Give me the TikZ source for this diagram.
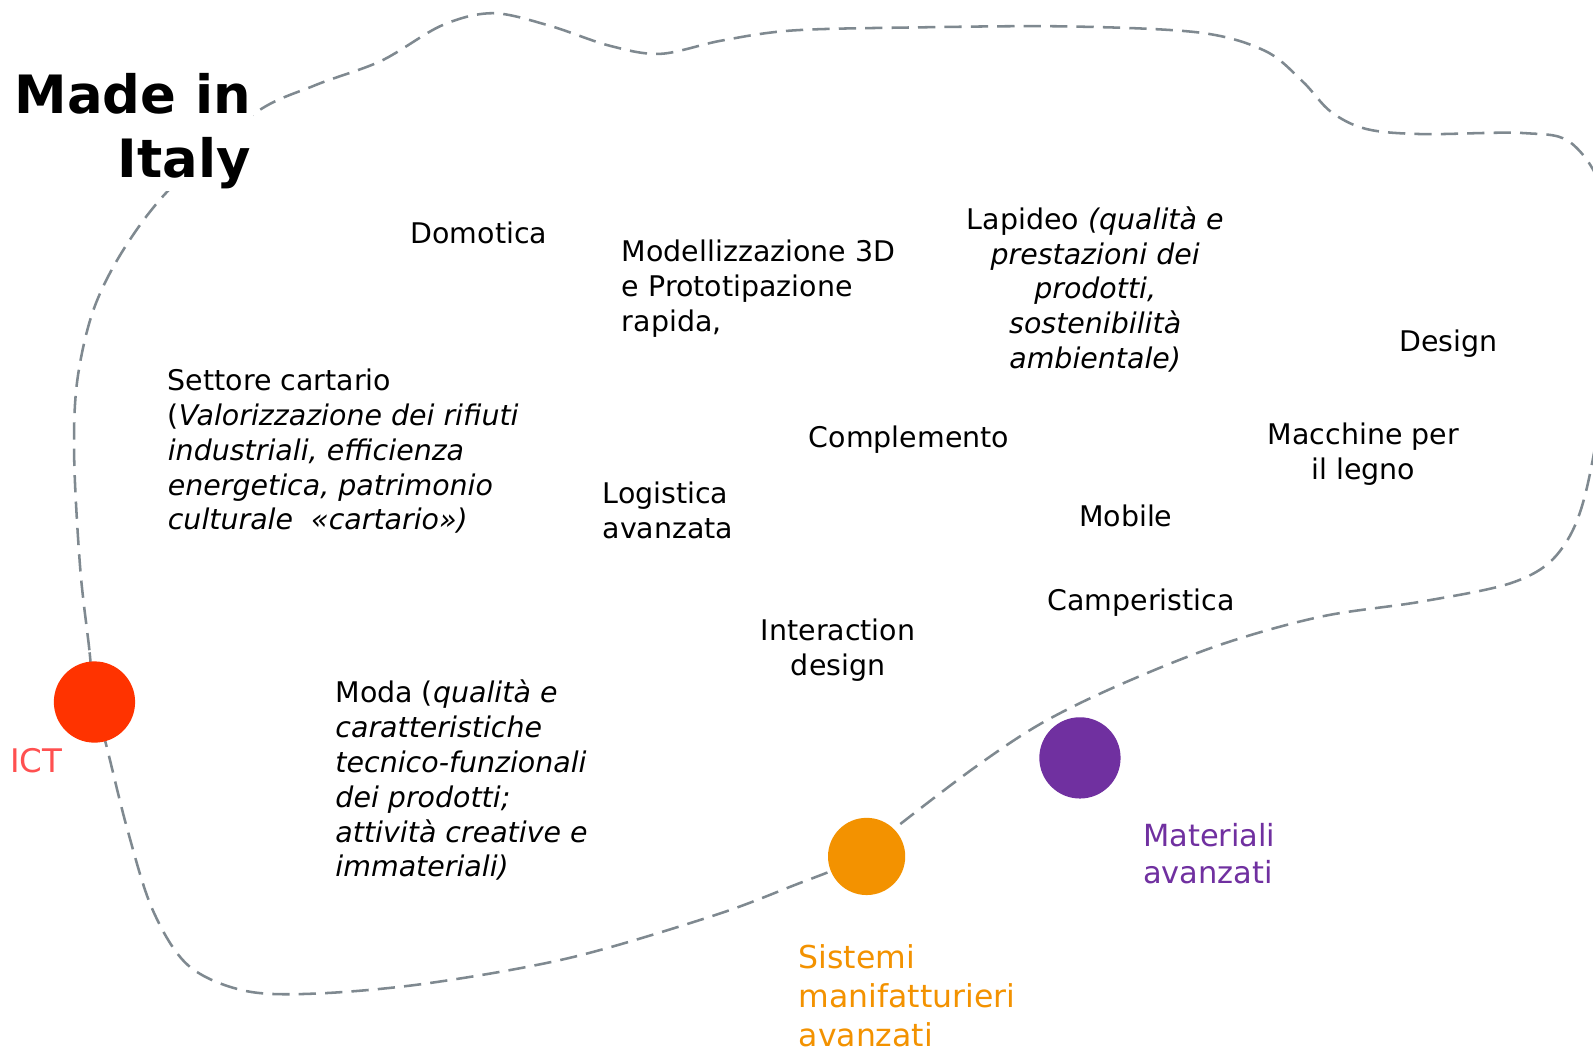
\documentclass[tikz,border=0pt]{standalone}
\usepackage{fontspec}
\setmainfont{DejaVu Sans}
\definecolor{linegray}{HTML}{7F8990}
\definecolor{ictred}{HTML}{FF3300}
\definecolor{icttext}{HTML}{FF5050}
\definecolor{orng}{HTML}{F39200}
\definecolor{purp}{HTML}{7030A0}
\tikzset{
  lbl/.style={font=\fontsize{28}{34.3}\selectfont, inner sep=0pt, align=left, anchor=north west},
  clbl/.style={font=\fontsize{28}{34.3}\selectfont, inner sep=0pt, align=center, anchor=north},
  dot/.style={circle, inner sep=0pt, minimum size=#1},
  border/.style={draw=linegray, line width=2.5pt, dash pattern=on 17pt off 9pt}
}
\begin{document}
\begin{tikzpicture}[x=1pt,y=-1pt]
\useasboundingbox (0,0) rectangle (1568,1035);
\clip (0,0) rectangle (1568,1035);
\fill[white] (0,0) rectangle (1568,1035);
% outline
\draw[border] plot[smooth cycle, tension=0.55] coordinates {
 (93,691) (88,640) (79,560) (73,450) (76,375) (92,305) (122,245) (168,185) (250,112)
 (310,84) (375,60) (435,25) (485,13) (540,25) (600,45) (650,53) (710,40)
 (780,30) (900,27) (1050,26) (1180,32) (1245,50) (1282,80) (1310,110)
 (1345,127) (1400,132) (1500,131) (1548,142) (1580,200) (1585,330)
 (1562,480) (1535,543) (1490,573) (1400,592) (1300,607) (1200,635)
 (1100,675) (1025,712) (960,755) (885,812) (845,845) (780,872) (700,902) (560,943)
 (420,968) (310,978) (240,975) (185,950) (150,895) (125,815) (105,735)};
% title
\node[font=\fontsize{52}{63}\selectfont\bfseries, align=right, anchor=north east,
      fill=white, inner sep=2pt] (title) at (249,70) {Made in\\Italy};
% circles
\node[dot=80pt, fill=ictred] (ict) at (93,691) {};
\node[dot=76pt, fill=orng] (sma) at (853,843) {};
\node[dot=80pt, fill=purp] (mat) at (1063,746) {};
% labels
\node[lbl, text=icttext, font=\fontsize{32}{38}\selectfont] (ictl) at (10,736) {ICT};
\node[lbl, text=purp, font=\fontsize{30}{37}\selectfont] (matl) at (1125,810) {Materiali\\avanzati};
\node[lbl, text=orng, font=\fontsize{31}{38}\selectfont] (smal) at (786,930) {Sistemi\\manifatturieri\\avanzati};
% sectors
\node[lbl] (domo) at (404,218) {Domotica};
\node[lbl] (mod3d) at (612,236) {Modellizzazione 3D\\e Prototipazione\\rapida,};
\node[clbl] (lap) at (1078,203) {Lapideo \textit{(qualità e}\\\textit{prestazioni dei}\\\textit{prodotti,}\\\textit{sostenibilità}\\\textit{ambientale)}};
\node[lbl] (design) at (1377,325) {Design};
\node[clbl] (macc) at (1342,416) {Macchine per\\il legno};
\node[lbl] (cart) at (165,363) {Settore cartario\\(\textit{Valorizzazione dei rifiuti}\\\textit{industriali, efficienza}\\\textit{energetica, patrimonio}\\\textit{culturale~ «cartario»)}};
\node[lbl] (compl) at (796,419) {Complemento};
\node[lbl] (logi) at (593,474) {Logistica\\avanzata};
\node[lbl] (mob) at (1062,497) {Mobile};
\node[lbl] (camp) at (1031,579) {Camperistica};
\node[clbl] (inter) at (825,609) {Interaction\\design};
\node[lbl] (moda) at (330,669) {Moda (\textit{qualità e}\\\textit{caratteristiche}\\\textit{tecnico-funzionali}\\\textit{dei prodotti;}\\\textit{attività creative e}\\\textit{immateriali)}};
\end{tikzpicture}
\end{document}
